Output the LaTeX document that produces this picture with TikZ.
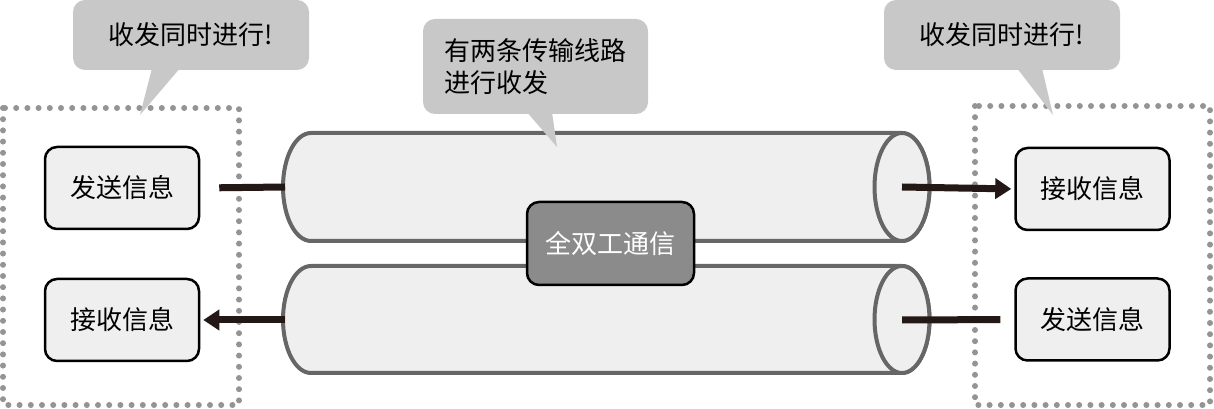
\documentclass[tikz,border=0pt]{standalone}
\usepackage{fontspec}
\setmainfont{Noto Sans CJK SC}
\usetikzlibrary{arrows.meta}

\definecolor{boxgray}{HTML}{EFEFEF}
\definecolor{notegray}{HTML}{C8C8C8}
\definecolor{tubeline}{HTML}{666666}
\definecolor{dotgray}{HTML}{949494}
\definecolor{midgray}{HTML}{8B8B8B}
\definecolor{arrowdark}{HTML}{231815}

\tikzset{
  msgbox/.style={draw=black, line width=2.5pt, fill=boxgray, rounded corners=12pt,
    minimum width=154pt, minimum height=82pt, font=\fontsize{26}{30}\selectfont},
  notebox/.style={fill=notegray, rounded corners=12pt, font=\fontsize{26}{32}\selectfont,
    align=left},
  tube/.style={draw=tubeline, line width=4pt, fill=boxgray},
  dotbox/.style={draw=dotgray, line width=6pt, line cap=round,
    dash pattern=on 0pt off 11.2pt},
  wire/.style={draw=arrowdark, line width=7pt},
  tip/.style={-{Triangle[length=16pt,width=20pt]}}
}

\begin{document}
\begin{tikzpicture}[x=1pt, y=1pt]
\useasboundingbox (0,0) rectangle (1214,409);

% dotted frames
\draw [dotbox] (3,301) rectangle (239,4);
\draw [dotbox] (975,303) rectangle (1210,4);

% the two lines
\filldraw [tube] (902,276) -- (311,276) arc (90:270:28pt and 54pt) -- (902,168)
  arc (-90:90:27.5pt and 54pt) -- cycle;
\draw [tube] (902,222) ellipse (27.5pt and 54pt);
\filldraw [tube] (902,143) -- (311,143) arc (90:270:28pt and 53.5pt) -- (902,36)
  arc (-90:90:27.5pt and 53.5pt) -- cycle;
\draw [tube] (902,89.5) ellipse (27.5pt and 53.5pt);
\coordinate (lineAin) at (285,222);
\coordinate (lineAout) at (902,222);
\coordinate (lineBin) at (285,89);
\coordinate (lineBout) at (902,89);

% end points
\node [msgbox] (sendL) at (122,221) {发送信息};
\node [msgbox] (recvL) at (122,89) {接收信息};
\node [msgbox] (recvR) at (1092.5,220) {接收信息};
\node [msgbox] (sendR) at (1092.5,89.5) {发送信息};

\draw [wire, shorten <=19pt] (sendL.east) -- (lineAin);
\draw [wire, tip, shorten >=3pt] (lineBin) -- (recvL.east);
\draw [wire, tip, shorten >=3pt] (lineAout) -- (recvR.west);
\draw [wire, shorten <=14pt] (sendR.west) -- (lineBout);

\node [draw=black, line width=2.5pt, fill=midgray, rounded corners=12pt,
  minimum width=167pt, minimum height=83pt, text=white,
  font=\fontsize{26}{30}\selectfont] (duplex) at (610.5,165.5) {全双工通信};

% notes
\node [notebox, minimum width=236pt, minimum height=70pt] (noteL) at (191,374) {收发同时进行!};
\coordinate (noteLtip) at (140,294);
\fill [notegray] ([xshift=-39pt,yshift=2pt]noteL.south) -- (noteLtip)
  -- ([xshift=-11pt,yshift=2pt]noteL.south) -- cycle;

\node [notebox, minimum width=236pt, minimum height=70pt] (noteR) at (1002,374) {收发同时进行!};
\coordinate (noteRtip) at (1053,294);
\fill [notegray] ([xshift=15pt,yshift=2pt]noteR.south) -- (noteRtip)
  -- ([xshift=40pt,yshift=2pt]noteR.south) -- cycle;

\node [notebox, minimum width=225pt, minimum height=95pt] (noteM) at (535.5,342.5)
  {有两条传输线路\\进行收发};
\coordinate (noteMtip) at (557,262);
\fill [notegray] ([xshift=-8.5pt,yshift=2pt]noteM.south) -- (noteMtip)
  -- ([xshift=16.5pt,yshift=2pt]noteM.south) -- cycle;
\end{tikzpicture}
\end{document}
